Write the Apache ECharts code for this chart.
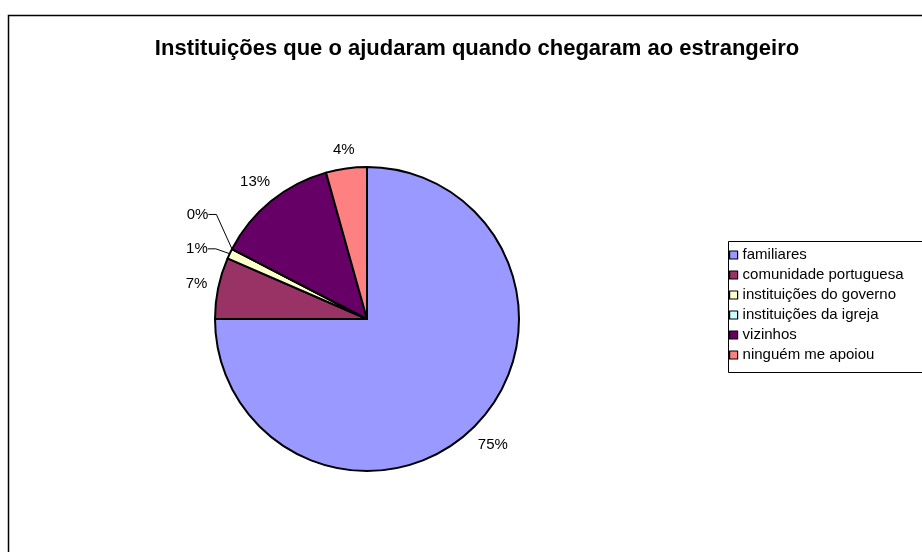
<!DOCTYPE html>
<html>
<head>
<meta charset="utf-8">
<script src="https://cdn.jsdelivr.net/npm/echarts@6/dist/echarts.min.js"></script>
<style>
html,body{margin:0;padding:0;background:#fff;}
#chart{width:922px;height:552px;}
</style>
</head>
<body>
<div id="chart"></div>
<script>
var titleText = 'Instituições que o ajudaram quando chegaram ao estrangeiro';
var categories = ['familiares', 'comunidade portuguesa', 'instituições do governo', 'instituições da igreja', 'vizinhos', 'ninguém me apoiou'];
var counts = [69, 6, 1, 0, 12, 4];
var colors = ['#9999FF', '#993366', '#FFFFCC', '#CCFFFF', '#660066', '#FF8080'];

var CX = 367, CY = 319, R = 152, GAP = 10;
// manual label displacement (as in the original, for the two tiny slices)
var labelNudge = { 2: [-12, 5], 3: [-14, -24] };
var leaderItems = [2, 3];

var total = counts.reduce(function (a, b) { return a + b; }, 0);

var chart = echarts.init(document.getElementById('chart'), null, { renderer: 'canvas' });

var data = categories.map(function (name, i) {
  var item = { name: name, value: counts[i], itemStyle: { color: colors[i] } };
  if (leaderItems.indexOf(i) >= 0) {
    item.labelLine = { show: true, length: 4, length2: 8, lineStyle: { color: '#000', width: 1 } };
  }
  return item;
});

chart.setOption({
  backgroundColor: '#fff',
  animation: false,
  title: {
    text: titleText,
    left: 472,
    top: 33,
    textAlign: 'center',
    textStyle: { fontFamily: 'Liberation Sans', fontWeight: 'bold', fontSize: 22, color: '#000' }
  },
  legend: {
    orient: 'vertical',
    left: 729,
    top: 245,
    padding: 0,
    itemGap: 0,
    itemWidth: 8,
    itemHeight: 8,
    icon: 'rect',
    itemStyle: { borderColor: '#000', borderWidth: 1.2 },
    textStyle: { fontFamily: 'Liberation Sans', fontSize: 15, color: '#000', lineHeight: 20 },
    data: categories
  },
  graphic: [
    { type: 'rect', shape: { x: 8.5, y: 15.5, width: 1000, height: 1000 }, style: { fill: null, stroke: '#000', lineWidth: 1.5 }, silent: true },
    { type: 'rect', shape: { x: 728.5, y: 241.5, width: 300, height: 131 }, style: { fill: null, stroke: '#000', lineWidth: 1 }, silent: true, z: -1 }
  ],
  series: [{
    type: 'pie',
    center: [CX, CY],
    radius: R,
    startAngle: 90,
    clockwise: true,
    avoidLabelOverlap: false,
    percentPrecision: 0,
    minShowLabelAngle: 0,
    itemStyle: { borderColor: '#000', borderWidth: 2 },
    emphasis: { disabled: true },
    label: {
      show: true,
      position: 'outside',
      formatter: '{d}%',
      fontFamily: 'Liberation Sans',
      fontSize: 15,
      color: '#000'
    },
    labelLine: { show: false },
    labelLayout: function (p) {
      var i = p.dataIndex;
      var cum = 0;
      for (var j = 0; j < i; j++) cum += counts[j];
      var mid = (cum + counts[i] / 2) / total * Math.PI * 2;
      var dx = Math.sin(mid), dy = -Math.cos(mid);
      var w = p.labelRect.width, h = p.labelRect.height;
      var proj = Math.abs(dx) * w / 2 + Math.abs(dy) * h / 2;
      var d = R + GAP + proj;
      var n = labelNudge[i] || [0, 0];
      return { x: CX + dx * d + n[0], y: CY + dy * d + n[1], align: 'center', verticalAlign: 'middle' };
    },
    data: data
  }]
});
</script>
</body>
</html>
